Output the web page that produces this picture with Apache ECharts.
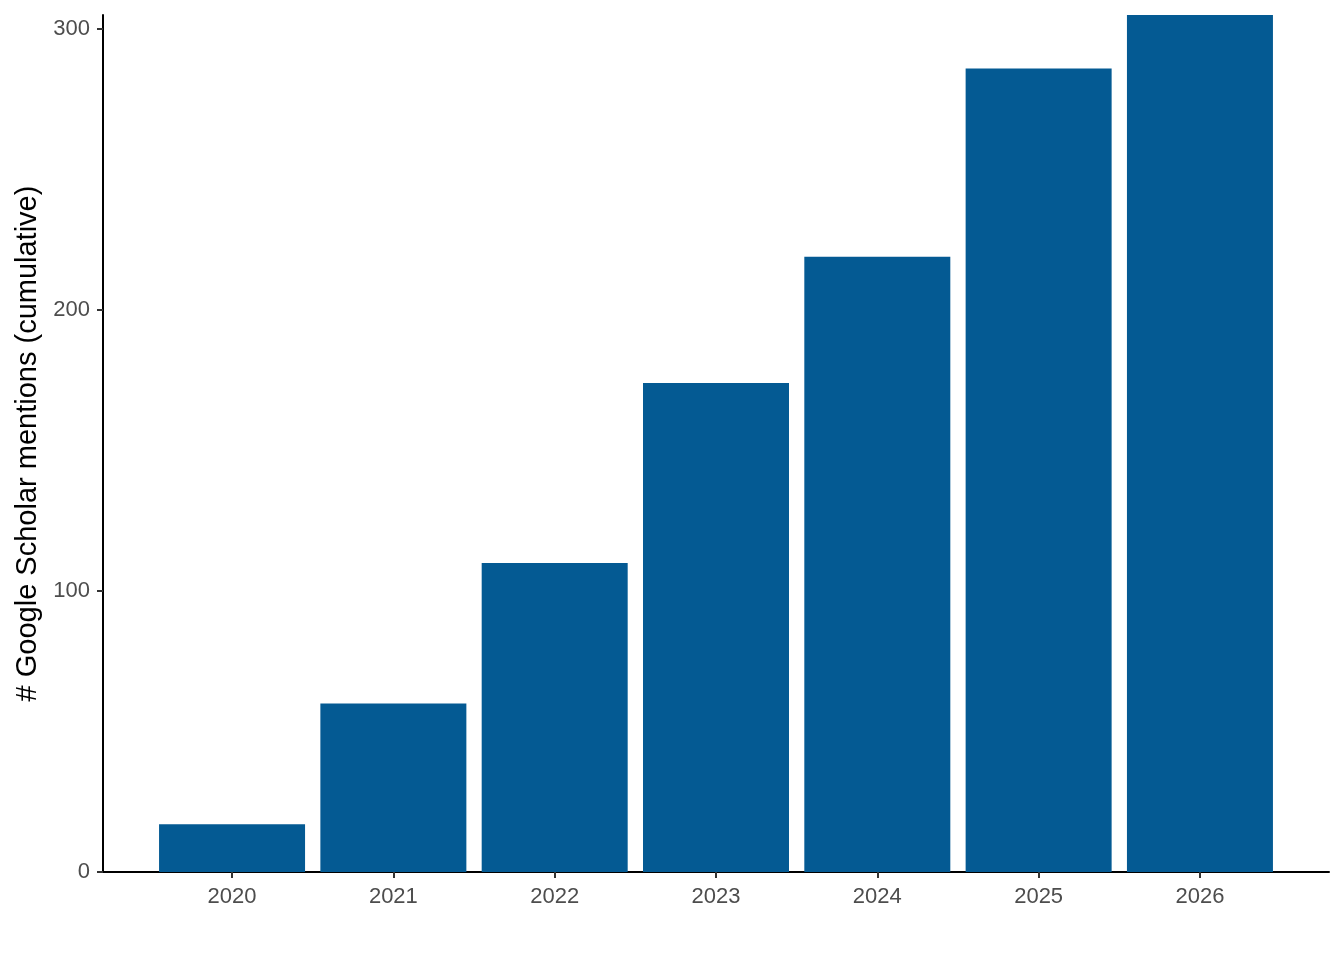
<!DOCTYPE html>
<html>
<head>
<meta charset="utf-8">
<script src="https://cdn.jsdelivr.net/npm/echarts@6/dist/echarts.min.js"></script>
<style>
html,body{margin:0;padding:0;background:#fff;}
#chart{width:1344px;height:960px;}
</style>
</head>
<body>
<div id="chart"></div>
<script>
const years = [2020, 2021, 2022, 2023, 2024, 2025, 2026];
const mentions = [17, 60, 110, 174, 219, 286, 305];
const yTicks = [0, 100, 200, 300];
const yTitle = '# Google Scholar mentions (cumulative)';

const chart = echarts.init(document.getElementById('chart'), null, {renderer: 'canvas'});
const font = '"Liberation Sans", Arial, Helvetica, sans-serif';
chart.setOption({
  animation: false,
  backgroundColor: '#ffffff',
  grid: {left: 103, right: 15, top: 15, bottom: 88, containLabel: false},
  xAxis: {
    type: 'value',
    min: 2019.2,
    max: 2026.8,
    axisLine: {show: true, onZero: false, lineStyle: {color: '#000', width: 2}},
    axisTick: {show: true, customValues: years, length: 6, lineStyle: {color: '#333', width: 2}},
    axisLabel: {customValues: years, color: '#4d4d4d', fontSize: 22, fontFamily: font, margin: 14,
      formatter: v => String(Math.round(v))},
    splitLine: {show: false}
  },
  yAxis: {
    type: 'value',
    min: 0,
    max: 305,
    name: yTitle,
    nameLocation: 'middle',
    nameGap: 60,
    nameRotate: 90,
    nameTextStyle: {color: '#000', fontSize: 29, fontFamily: font},
    axisLine: {show: true, lineStyle: {color: '#000', width: 2}},
    axisTick: {show: true, customValues: yTicks, length: 6, lineStyle: {color: '#333', width: 2}},
    axisLabel: {customValues: yTicks, color: '#4d4d4d', fontSize: 22, fontFamily: font, margin: 13},
    splitLine: {show: false}
  },
  series: [{
    type: 'bar',
    data: years.map((y, i) => [y, mentions[i]]),
    barWidth: 146,
    itemStyle: {color: '#045A93'},
    z: 1
  }]
});
</script>
</body>
</html>
